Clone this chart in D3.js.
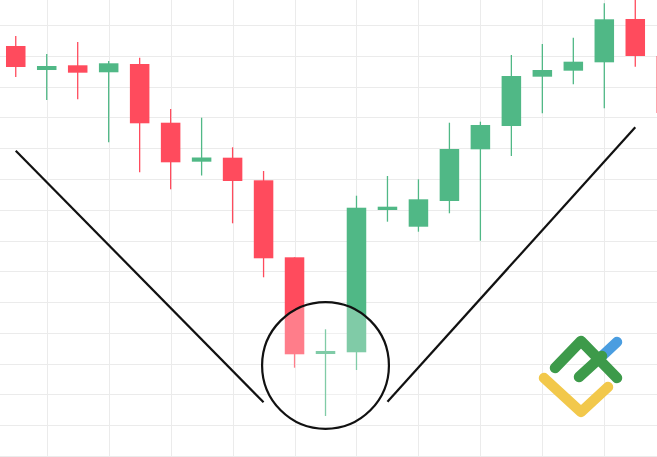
<!DOCTYPE html>
<html>
<head>
<meta charset="utf-8">
<script src="https://cdn.jsdelivr.net/npm/d3@7"></script>
<style>
  html, body { margin: 0; padding: 0; background: #ffffff; }
  svg { display: block; }
</style>
</head>
<body>
<svg id="chart" width="657" height="457"></svg>
<script>
// ---- data (price units) ----
const categories = d3.range(22).map(i => "P" + (i + 1));
const opens  = [233.18, 225.38, 226.91, 224.64, 227.33, 208.26, 195.60, 196.90, 189.55, 164.54, 133.13, 133.69, 179.91, 174.48, 182.83, 199.62, 207.19, 223.21, 225.16, 227.88, 241.95, 229.93];
const highs  = [236.43, 230.58, 234.48, 228.31, 229.38, 212.71, 209.89, 200.27, 192.58, 164.54, 141.16, 184.55, 190.95, 189.88, 208.26, 208.59, 230.26, 233.83, 235.87, 247.05, 250.00, 232.00];
const lows   = [223.11, 215.64, 215.87, 201.90, 192.15, 186.63, 191.11, 175.59, 158.05, 128.68, 112.99, 127.94, 176.11, 172.86, 178.84, 169.94, 197.45, 211.32, 220.74, 212.94, 226.45, 209.00];
const closes = [226.36, 226.68, 224.51, 227.56, 208.07, 195.40, 196.96, 189.33, 164.22, 133.04, 134.11, 180.65, 180.98, 183.38, 199.72, 207.52, 223.43, 225.38, 228.08, 241.85, 229.93, 211.42];
const gridPrices = d3.range(100, 241, 10);

// annotation: trend lines [index, price] and focus circle
const leftLine  = [[0, 199.17], [8, 117.44]];
const rightLine = [[12, 117.64], [20, 206.77]];
const focusCircle = { index: 10, price: 129.4, radiusPrice: 20.6 };

const candles = categories.map((c, i) => ({
  cat: c, open: opens[i], high: highs[i], low: lows[i], close: closes[i]
}));

const W = 657, H = 457;
const svg = d3.select("#chart");

const x = d3.scaleBand()
  .domain(categories)
  .range([0, 682])
  .paddingInner(0.37)
  .paddingOuter(0.1935);
const xc = c => x(c) + x.bandwidth() / 2;
const xi = i => xc(categories[i]);

const y = d3.scaleLinear().domain([100, 240]).range([456, 25]);

const RED = "#ff4b5d", GREEN = "#50b886";

// grid
const grid = svg.append("g").attr("class", "grid");
grid.selectAll("line.h").data(gridPrices).join("line")
  .attr("class", "h")
  .attr("x1", 0).attr("x2", W)
  .attr("y1", d => Math.round(y(d)) + 0.5).attr("y2", d => Math.round(y(d)) + 0.5)
  .attr("stroke", "#ebebeb").attr("stroke-width", 1);
const vIdx = categories.filter((c, i) => i % 2 === 1);
grid.selectAll("line.v").data(vIdx).join("line")
  .attr("class", "v")
  .attr("y1", 0).attr("y2", H)
  .attr("x1", d => Math.round(xc(d)) + 0.5).attr("x2", d => Math.round(xc(d)) + 0.5)
  .attr("stroke", "#ebebeb").attr("stroke-width", 1);

// candles
const g = svg.append("g").attr("class", "candles");
const cg = g.selectAll("g.c").data(candles).join("g").attr("class", "c");
cg.append("line")
  .attr("x1", d => xc(d.cat)).attr("x2", d => xc(d.cat))
  .attr("y1", d => y(d.high)).attr("y2", d => y(d.low))
  .attr("stroke", d => d.close >= d.open ? GREEN : RED)
  .attr("stroke-width", 1.3);
cg.append("rect")
  .attr("x", d => x(d.cat))
  .attr("width", x.bandwidth())
  .attr("y", d => y(Math.max(d.open, d.close)))
  .attr("height", d => Math.max(3, Math.abs(y(d.open) - y(d.close))))
  .attr("fill", d => d.close >= d.open ? GREEN : RED);

// trend lines
const lineGen = d3.line().x(d => xi(d[0])).y(d => y(d[1]));
[leftLine, rightLine].forEach(l => {
  svg.append("path").attr("d", lineGen(l))
    .attr("fill", "none").attr("stroke", "#111").attr("stroke-width", 2.2);
});

// focus circle
const rPx = y(0) - y(focusCircle.radiusPrice);
svg.append("circle")
  .attr("cx", xi(focusCircle.index))
  .attr("cy", y(focusCircle.price))
  .attr("r", rPx)
  .attr("fill", "rgba(255,255,255,0.28)")
  .attr("stroke", "#111").attr("stroke-width", 2.2);

// logo
const logo = svg.append("g").attr("transform", "translate(580,378)")
  .attr("fill", "none").attr("stroke-linecap", "round").attr("stroke-linejoin", "round")
  .attr("stroke-width", 10.5);
const pl = d3.line();
logo.append("path").attr("d", pl([[-36, 0], [1, 34], [28, 9]])).attr("stroke", "#f2c84b");
logo.append("path").attr("d", pl([[21, -21], [37, -36]])).attr("stroke", "#4a9de0");
logo.append("path").attr("d", pl([[-25, -10], [1, -37], [37, 0]])).attr("stroke", "#3d9a4a");
logo.append("path").attr("d", pl([[-1, -1], [22, -22]])).attr("stroke", "#3d9a4a");
</script>
</body>
</html>
